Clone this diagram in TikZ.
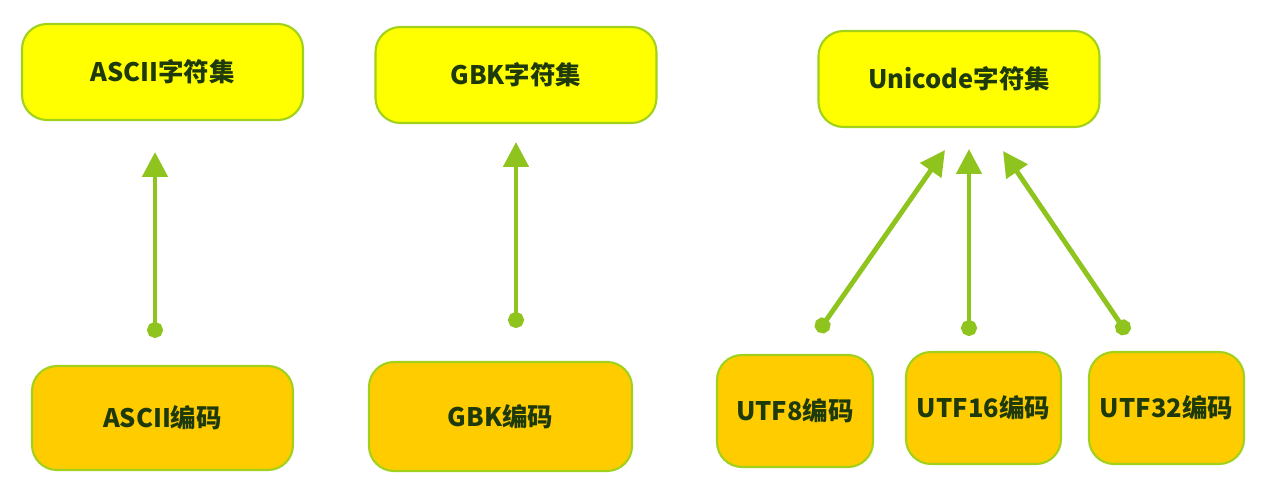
\documentclass[tikz,border=0pt]{standalone}
\usepackage{fontspec}
\setmainfont{Noto Sans CJK SC}
\usepackage{xcolor}
\usetikzlibrary{arrows.meta,positioning,calc}

\definecolor{setfill}{HTML}{FFFF00}
\definecolor{encfill}{HTML}{FFCC00}
\definecolor{boxline}{HTML}{A2D11C}
\definecolor{arrowgreen}{HTML}{8FC41E}
\definecolor{labeltext}{HTML}{1F3A0A}

\tikzset{
  setbox/.style={draw=boxline,line width=1.2pt,fill=setfill,rounded corners=0.5cm,
    minimum width=5.62cm,minimum height=1.92cm,text=labeltext,font=\bfseries\fontsize{14.5}{16}\selectfont},
  encbox/.style={draw=boxline,line width=1.2pt,fill=encfill,rounded corners=0.5cm,
    minimum height=2.16cm,text=labeltext,font=\bfseries\fontsize{14.5}{16}\selectfont},
  maplink/.style={arrowgreen,line width=2.8pt,{Circle[length=0.32cm]}-{Triangle[width=0.5cm,length=0.5cm]}}
}

\begin{document}
\begin{tikzpicture}
 \useasboundingbox (0,0) rectangle (25.28,9.96);
 % character sets
 \node[setbox] (asciiset) at (3.25,8.52) {ASCII字符集};
 \node[setbox] (gbkset) at (10.32,8.46) {GBK字符集};
 \node[setbox] (uniset) at (19.18,8.38) {Unicode字符集};
 % encodings
 \node[encbox,minimum width=5.22cm,minimum height=2.08cm] (asciienc) at (3.25,1.60) {ASCII编码};
 \node[encbox,minimum width=5.26cm,minimum height=2.18cm] (gbkenc) at (10.01,1.63) {GBK编码};
 \node[encbox,minimum width=3.12cm,minimum height=2.24cm] (utf8enc) at (15.90,1.74) {UTF8编码};
 \node[encbox,minimum width=3.10cm,minimum height=2.24cm] (utf16enc) at (19.67,1.80) {UTF16编码};
 \node[encbox,minimum width=3.10cm,minimum height=2.24cm] (utf32enc) at (23.33,1.80) {UTF32编码};
 % free ends of the links
 \coordinate (asciidot) at (3.10,3.20);
 \coordinate (asciitip) at (3.10,6.92);
 \coordinate (gbkdot) at (10.32,3.40);
 \coordinate (gbktip) at (10.32,7.12);
 \coordinate (utf8dot) at (16.36,3.32);
 \coordinate (utf8tip) at (18.90,6.96);
 \coordinate (utf16dot) at (19.38,3.24);
 \coordinate (utf16tip) at (19.38,6.98);
 \coordinate (utf32dot) at (22.55,3.28);
 \coordinate (utf32tip) at (20.06,6.94);
 \draw[maplink] (asciidot) -- (asciitip);
 \draw[maplink] (gbkdot) -- (gbktip);
 \draw[maplink] (utf8dot) -- (utf8tip);
 \draw[maplink] (utf16dot) -- (utf16tip);
 \draw[maplink] (utf32dot) -- (utf32tip);
\end{tikzpicture}
\end{document}
